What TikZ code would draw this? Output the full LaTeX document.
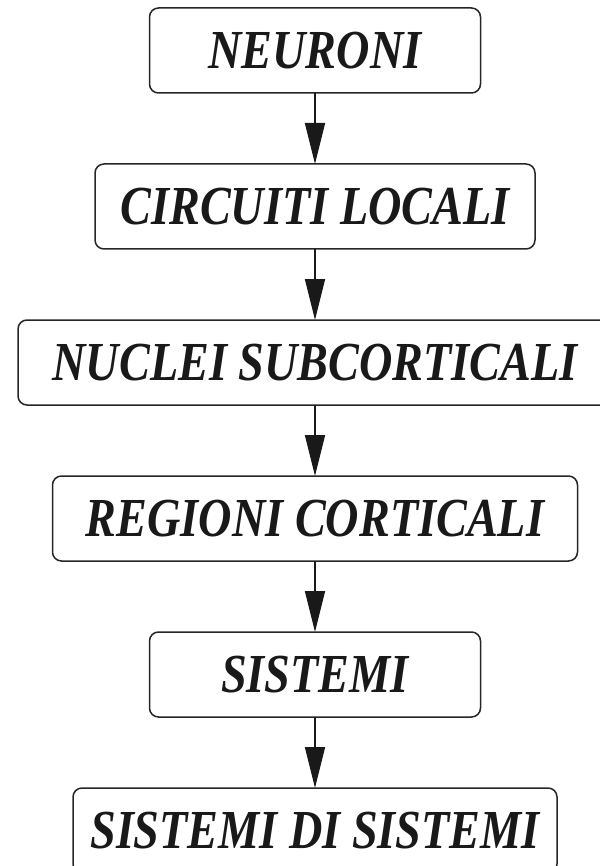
\documentclass[tikz,border=0pt]{standalone}
\usepackage{fontspec}
\setmainfont{Liberation Serif}
\usetikzlibrary{positioning,arrows.meta}
\newcommand{\lvl}[1]{\scalebox{0.84}[1]{#1}}
\begin{document}
\begin{tikzpicture}[x=1pt,y=1pt,
  level/.style={draw=black!85,line width=1.5pt,rounded corners=9pt,minimum height=85pt,inner sep=0pt,outer sep=0pt,
    text=black!90,font=\fontsize{55}{64}\selectfont\bfseries\itshape},
  down/.style={draw=black!90,line width=1.5pt,-{Triangle[length=41pt,width=20pt]}},
  node distance=71pt]
\useasboundingbox (0,0) rectangle (599,-866);
\node[level,minimum width=331pt] (neuroni) at (315,-50.5) {\lvl{NEURONI}};
\node[level,minimum width=440pt,below=of neuroni] (circuiti) {\lvl{CIRCUITI LOCALI}};
\node[level,minimum width=594pt,below=of circuiti] (nuclei) {\lvl{NUCLEI SUBCORTICALI}};
\node[level,minimum width=525pt,below=of nuclei] (regioni) {\lvl{REGIONI CORTICALI}};
\node[level,minimum width=331pt,below=of regioni] (sistemi) {\lvl{SISTEMI}};
\node[level,minimum width=484pt,below=of sistemi] (sds) {\lvl{SISTEMI DI SISTEMI}};
\draw[down] (neuroni) -- (circuiti);
\draw[down] (circuiti) -- (nuclei);
\draw[down] (nuclei) -- (regioni);
\draw[down] (regioni) -- (sistemi);
\draw[down] (sistemi) -- (sds);
\end{tikzpicture}
\end{document}
